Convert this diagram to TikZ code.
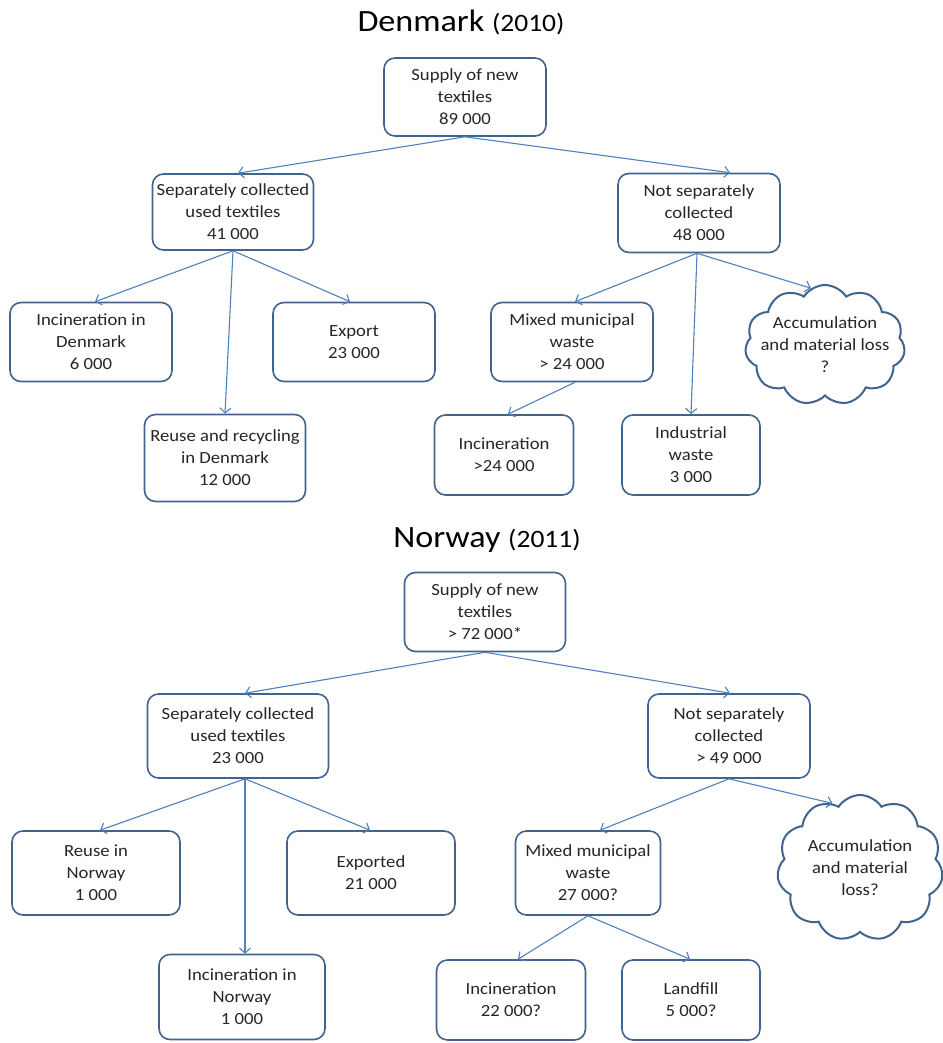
\documentclass[tikz,border=0pt]{standalone}
\usepackage{fontspec}
\setmainfont{Carlito}[FakeStretch=1.1]
\usetikzlibrary{shapes.symbols,arrows.meta,calc}
\definecolor{boxblue}{HTML}{41648F}
\definecolor{arrblue}{HTML}{4F81BD}
\definecolor{txt}{HTML}{262626}
\begin{document}
\begin{tikzpicture}[x=1pt,y=-1pt,
  box/.style={draw=boxblue,line width=1.6pt,rounded corners=11pt,fill=white,align=center,
    font=\fontsize{17}{22}\selectfont,text=txt,inner sep=0pt},
  cl/.style={cloud,cloud puffs=11,cloud puff arc=115,aspect=1.3,draw=boxblue,line width=2pt,fill=white,
    inner sep=0pt},
  cltext/.style={align=center,font=\fontsize{17}{22}\selectfont,text=txt,inner sep=0pt},
  arr/.style={draw=arrblue,line width=1.1pt,-{Straight Barb[length=5pt,width=11pt]}},
  ttl/.style={inner sep=0pt,text=black}]
\path[fill=white,use as bounding box] (0,0) rectangle (942,1043);

% ---------- Denmark ----------
\node[ttl] (tdk) at (461,22) {\fontsize{31}{33}\selectfont Denmark \fontsize{25}{27}\selectfont(2010)};
\node[box,minimum width=162pt,minimum height=78pt] (supdk) at (465,97) {Supply of new\\textiles\\89 000};
\node[box,minimum width=161pt,minimum height=76pt] (sepdk) at (233,212) {Separately collected\\used textiles\\41 000};
\node[box,minimum width=162pt,minimum height=79pt] (nsdk) at (699,213) {Not separately\\collected\\48 000};
\node[box,minimum width=162pt,minimum height=79pt] (incdk) at (91,342) {Incineration in\\Denmark\\6 000};
\node[box,minimum width=162pt,minimum height=79pt] (expdk) at (354,342) {Export\\23 000};
\node[box,minimum width=161pt,minimum height=87pt] (reudk) at (225,458) {Reuse and recycling\\in Denmark\\12 000};
\node[box,minimum width=162pt,minimum height=79pt] (mixdk) at (572,342) {Mixed municipal\\waste\\> 24 000};
\node[cl,minimum width=160pt,minimum height=120pt,
  label={[cltext]center:Accumulation\\and material loss\\?}] (clouddk) at (825,345) {};
\node[box,minimum width=139pt,minimum height=80pt] (inc2dk) at (504,455) {Incineration\\>24 000};
\node[box,minimum width=138pt,minimum height=80pt] (inddk) at (691,455) {Industrial\\waste\\3 000};

\draw[arr] (supdk.south) -- ($(sepdk.north)+(5,0)$);
\draw[arr] (supdk.south) -- ($(nsdk.north)+(31,0)$);
\draw[arr] (sepdk.south) -- ($(incdk.north)+(4,0)$);
\draw[arr] (sepdk.south) -- (reudk.north);
\draw[arr] (sepdk.south) -- ($(expdk.north)+(-4,0)$);
\draw[arr] ($(nsdk.south)+(-2,0)$) -- ($(mixdk.north)+(3,0)$);
\draw[arr] ($(nsdk.south)+(-2,0)$) -- (inddk.north);
\draw[arr] ($(nsdk.south)+(-2,0)$) -- (clouddk.104);
\draw[arr] ($(mixdk.south)+(3,0)$) -- ($(inc2dk.north)+(4,0)$);

% ---------- Norway ----------
\node[ttl] (tno) at (487,540) {\fontsize{31}{33}\selectfont Norway \fontsize{25}{27}\selectfont(2011)};
\node[box,minimum width=161pt,minimum height=79pt] (supno) at (485,612) {Supply of new\\textiles\\> 72 000*};
\node[box,minimum width=181pt,minimum height=84pt] (sepno) at (238,736) {Separately collected\\used textiles\\23 000};
\node[box,minimum width=162pt,minimum height=84pt] (nsno) at (729,736) {Not separately\\collected\\> 49 000};
\node[box,minimum width=168pt,minimum height=84pt] (reuno) at (96,873) {Reuse in\\Norway\\1 000};
\node[box,minimum width=168pt,minimum height=84pt] (expno) at (371,873) {Exported\\21 000};
\node[box,minimum width=166pt,minimum height=85pt] (incno) at (242,997) {Incineration in\\Norway\\1 000};
\node[box,minimum width=145pt,minimum height=84pt] (mixno) at (588,873) {Mixed municipal\\waste\\27 000?};
\node[cl,minimum width=166pt,minimum height=146pt,
  label={[cltext]center:Accumulation\\and material\\loss?}] (cloudno) at (860,868) {};
\node[box,minimum width=149pt,minimum height=80pt] (inc2no) at (511,1000) {Incineration\\22 000?};
\node[box,minimum width=138pt,minimum height=80pt] (lanno) at (691,1000) {Landfill\\5 000?};

\draw[arr] (supno.south) -- ($(sepno.north)+(7,0)$);
\draw[arr] (supno.south) -- ($(nsno.north)+(1,0)$);
\draw[arr] ($(sepno.south)+(7,0)$) -- ($(reuno.north)+(4,0)$);
\draw[arr] ($(sepno.south)+(7,0)$) -- ($(incno.north)+(3,0)$);
\draw[arr] ($(sepno.south)+(7,0)$) -- ($(expno.north)+(-1,0)$);
\draw[arr] (nsno.south) -- ($(mixno.north)+(12,0)$);
\draw[arr] (nsno.south) -- (cloudno.113);
\draw[arr] (mixno.south) -- ($(inc2no.north)+(7,0)$);
\draw[arr] (mixno.south) -- ($(lanno.north)+(-1,0)$);
\end{tikzpicture}
\end{document}
